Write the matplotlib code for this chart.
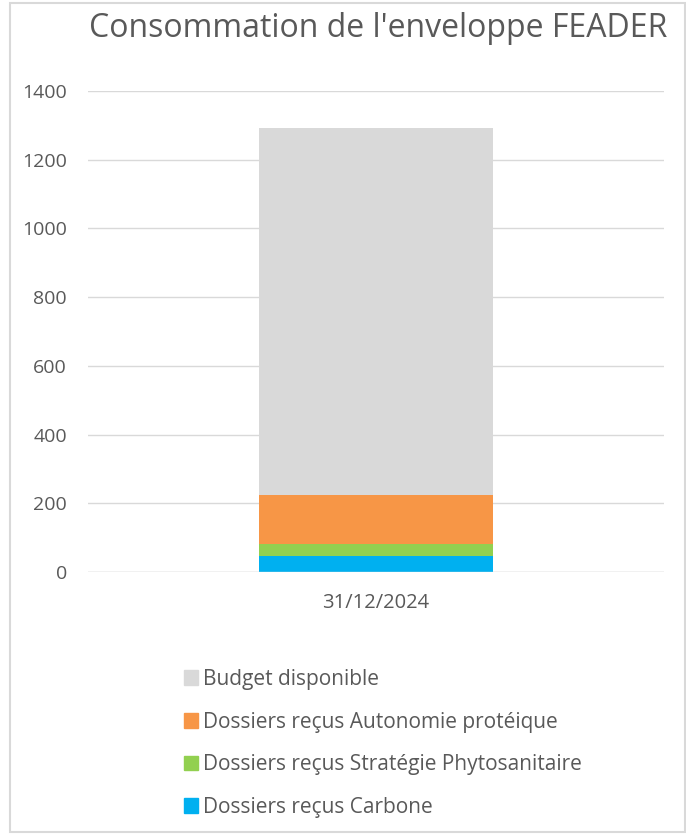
import matplotlib
matplotlib.use("Agg")
import matplotlib.pyplot as plt
from matplotlib.patches import Patch

categories = ["31/12/2024"]
series_names = ["Dossiers reçus Carbone", "Dossiers reçus Stratégie Phytosanitaire",
                "Dossiers reçus Autonomie protéique", "Budget disponible"]
carbone = [47]
phyto = [35]
autonomie = [142]
budget = [1068]
colors = ["#00b0f0", "#92d050", "#f79646", "#d9d9d9"]
yticks = [0, 200, 400, 600, 800, 1000, 1200, 1400]

plt.rcParams['font.family'] = ['Open Sans', 'DejaVu Sans']
txt = "#595959"

fig = plt.figure(figsize=(6.86, 8.34), dpi=100)
ax = fig.add_axes([0.128, 0.314, 0.84, 0.577])

values = [carbone, phyto, autonomie, budget]
bottom = [0] * len(categories)
x = list(range(len(categories)))
for name, vals, col in zip(series_names, values, colors):
    ax.bar(x, vals, width=0.405, bottom=bottom, color=col, label=name, zorder=3)
    bottom = [b + v for b, v in zip(bottom, vals)]

ax.set_xlim(-0.5, 0.5)
ax.set_ylim(0, 1400)
ax.set_yticks(yticks)
ax.set_yticklabels([str(t) for t in yticks], fontsize=14, color=txt)
ax.set_xticks(x)
ax.set_xticklabels(categories, fontsize=14.5, color=txt)
ax.tick_params(axis='both', length=0)
ax.tick_params(axis='x', pad=15)
ax.tick_params(axis='y', pad=15)
ax.grid(axis='y', color='#d9d9d9', linewidth=1, zorder=0)
for s in ax.spines.values():
    s.set_visible(False)
ax.axhline(0, color='#d9d9d9', linewidth=1, zorder=4)

fig.text(0.551, 1 - 37 / 834, "Consommation de l'enveloppe FEADER", ha='center', va='baseline',
         fontsize=23, color=txt)

handles = [Patch(color=c, label=n) for n, c in zip(series_names, colors)][::-1]
fig.legend(handles=handles, loc='upper left', bbox_to_anchor=(184 / 686, 1 - 669 / 834),
           frameon=False, fontsize=15, labelcolor=txt, handlelength=0.67,
           handleheight=0.7, handletextpad=0.25, labelspacing=1.04, borderaxespad=0,
           borderpad=0)

fig.patches.append(plt.Rectangle((9.5 / 686, 1 - 832 / 834), 675 / 686, 829 / 834,
                                 transform=fig.transFigure, fill=False,
                                 edgecolor='#d9d9d9', linewidth=1.5))

fig.savefig("out.png", dpi=100)
